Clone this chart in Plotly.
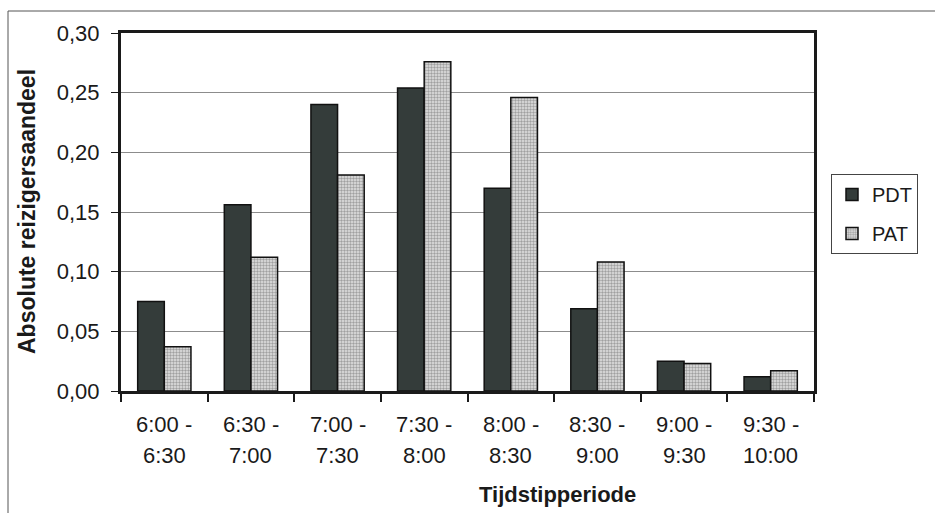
import plotly.graph_objects as go

# Half-hour periods and the share of travellers per period
periods = ["6:00 - 6:30", "6:30 - 7:00", "7:00 - 7:30", "7:30 - 8:00",
           "8:00 - 8:30", "8:30 - 9:00", "9:00 - 9:30", "9:30 - 10:00"]
pdt = [0.075, 0.156, 0.240, 0.254, 0.170, 0.069, 0.025, 0.012]
pat = [0.037, 0.112, 0.181, 0.276, 0.246, 0.108, 0.023, 0.017]
y_ticks = [0.00, 0.05, 0.10, 0.15, 0.20, 0.25, 0.30]

W, H = 935, 513
L, R, T, B = 121, 121, 33, 122
plot_h = H - T - B

FONT = "Liberation Sans, Arial, sans-serif"
INK = "#1a1a1a"

fig = go.Figure()
fig.add_trace(go.Bar(
    name="PDT", x=periods, y=pdt, legendgroup="a",
    marker=dict(color="#343c3a", line=dict(color="#111111", width=1.5)),
))
fig.add_trace(go.Bar(
    name="PAT", x=periods, y=pat, legendgroup="b",
    marker=dict(color="#d0d0d0", line=dict(color="#111111", width=1.5),
                pattern=dict(shape=".", fgcolor="#5e5e5e", bgcolor="#e2e2e2",
                             size=3, solidity=0.5)),
))

# Two-line period labels below each category
annotations = []
for p in periods:
    first, second = p.split(" - ")
    annotations.append(dict(x=p, xref="x", y=(391 - 424.5) / plot_h, yref="paper",
                            text=first + " -", showarrow=False, yanchor="middle",
                            font=dict(family=FONT, size=22, color=INK)))
    annotations.append(dict(x=p, xref="x", y=(391 - 455.5) / plot_h, yref="paper",
                            text=second, showarrow=False, yanchor="middle",
                            font=dict(family=FONT, size=22, color=INK)))

# Axis titles
annotations.append(dict(x=(557 - L) / (W - L - R), xref="paper",
                        y=(391 - 495) / plot_h, yref="paper",
                        text="<b>Tijdstipperiode</b>", showarrow=False,
                        xanchor="center", yanchor="middle",
                        font=dict(family=FONT, size=22, color=INK)))
annotations.append(dict(x=(27 - L) / (W - L - R), xref="paper",
                        y=0.5, yref="paper", textangle=-90,
                        text="<b>Absolute reizigersaandeel</b>", showarrow=False,
                        xanchor="center", yanchor="middle",
                        font=dict(family=FONT, size=23, color=INK)))

fig.update_layout(
    width=W, height=H,
    margin=dict(l=L, r=R, t=T, b=B),
    paper_bgcolor="white", plot_bgcolor="white",
    separators=", ",
    barmode="group", bargap=0.385, bargroupgap=0.0,
    font=dict(family=FONT, size=20, color=INK),
    showlegend=True,
    legend=dict(x=(831 - L) / (W - L - R), xanchor="left",
                y=(391 - 174) / plot_h, yanchor="top",
                bordercolor="#444444", borderwidth=1, bgcolor="white",
                font=dict(family=FONT, size=20, color=INK),
                tracegroupgap=10),
    annotations=annotations,
    shapes=[dict(type="rect", xref="paper", yref="paper",
                 x0=(8 - L) / (W - L - R), x1=1.4,
                 y0=-0.6, y1=(391 - 11) / plot_h,
                 line=dict(color="#555555", width=1), layer="below")],
)

fig.update_xaxes(
    type="category", showline=True, linewidth=3, linecolor=INK, mirror=True,
    ticks="outside", tickson="boundaries", ticklen=8, tickwidth=2,
    tickcolor=INK, showticklabels=False, showgrid=False, zeroline=False,
)
fig.update_yaxes(
    range=[0, 0.30], tickvals=y_ticks, tickformat=".2f",
    showline=True, linewidth=3, linecolor=INK, mirror=True,
    ticks="outside", ticklen=7, tickwidth=1, tickcolor=INK,
    ticklabelstandoff=7,
    showgrid=True, gridcolor="#8c8c8c", gridwidth=1, zeroline=False,
    tickfont=dict(family=FONT, size=22, color=INK),
)

fig.write_html("out.html")
